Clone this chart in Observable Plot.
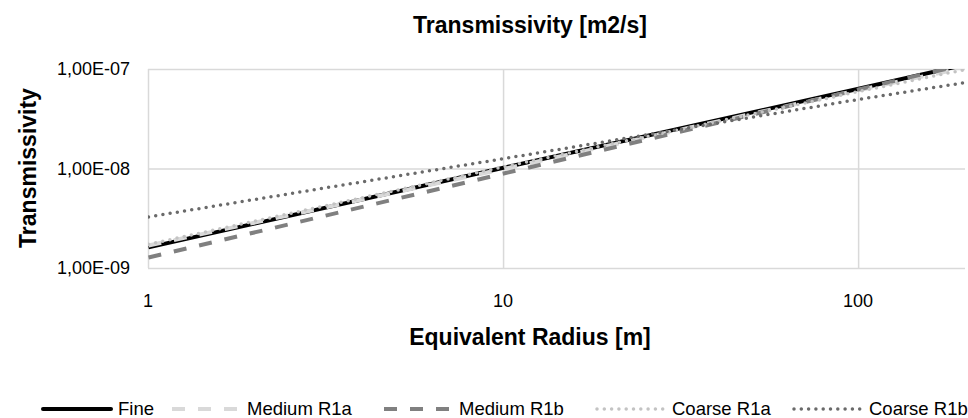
<!DOCTYPE html>
<html>
<head>
<meta charset="utf-8">
<script src="https://cdn.jsdelivr.net/npm/d3@7"></script>
<script src="https://cdn.jsdelivr.net/npm/@observablehq/plot@0.6"></script>
<style>
  html, body { margin: 0; padding: 0; background: #fff; }
  body { font-family: "Liberation Sans", Arial, sans-serif; }
  #chart { position: relative; width: 968px; height: 418px; overflow: hidden; }
  .title { position: absolute; font-weight: bold; font-size: 23px; color: #000;
           white-space: nowrap; line-height: 1; }
  #title { top: 14px; left: 530px; transform: translateX(-50%); }
  #xtitle { top: 326px; left: 530px; transform: translateX(-50%); }
  #ytitle { top: 168px; left: 28px; transform: translate(-50%, -50%) rotate(-90deg); }
  .tick { position: absolute; font-size: 18px; color: #000; white-space: nowrap; line-height: 1; }
  .tick.x { transform: translate(-50%, -50%); }
  .tick.y { transform: translate(-100%, -50%); }
  #legend { position: absolute; top: 398px; left: 0; width: 968px; height: 22px; }
  .item { position: absolute; top: 0; display: flex; align-items: center; font-size: 18.5px; color: #000; }
  .item svg { margin-right: 5px; }
</style>
</head>
<body>
<div id="chart">
  <div id="plot"></div>
  <div id="title" class="title">Transmissivity [m2/s]</div>
  <div id="xtitle" class="title">Equivalent Radius [m]</div>
  <div id="ytitle" class="title">Transmissivity</div>
  <div id="legend"></div>
</div>
<script>
// Equivalent radius [m] at which each series is read
const radius = [1, 10, 100, 200];

// Transmissivity [m2/s] per discretisation
const fine      = [1.63e-9, 1.03e-8, 6.4e-8, 1.12e-7];
const mediumR1a = [1.70e-9, 1.00e-8, 6.2e-8, 1.05e-7];
const mediumR1b = [1.29e-9, 9.0e-9, 6.3e-8, 1.13e-7];
const coarseR1a = [1.75e-9, 1.05e-8, 6.0e-8, 1.0e-7];
const coarseR1b = [3.3e-9, 1.27e-8, 5.0e-8, 7.4e-8];

const seriesNames = ["Fine", "Medium R1a", "Medium R1b", "Coarse R1a", "Coarse R1b"];
const seriesValues = [fine, mediumR1a, mediumR1b, coarseR1a, coarseR1b];

const xTicks = [1, 10, 100];
const yTicks = [1e-9, 1e-8, 1e-7];

// Line styles for each series
const styles = {
  "Fine":       {stroke: "#000000", strokeWidth: 4, dash: null, cap: "butt"},
  "Medium R1a": {stroke: "#d9d9d9", strokeWidth: 4, dash: "13,13", cap: "butt"},
  "Medium R1b": {stroke: "#808080", strokeWidth: 4, dash: "13,13", cap: "butt"},
  "Coarse R1a": {stroke: "#c3c3c3", strokeWidth: 3.5, dash: "0,7.3", cap: "round"},
  "Coarse R1b": {stroke: "#6a6a6a", strokeWidth: 3.5, dash: "0,7.3", cap: "round"}
};

const rows = seriesNames.flatMap((name, i) =>
  radius.map((r, j) => ({series: name, r, t: seriesValues[i][j]})));

const sciComma = d => {
  const e = Math.round(Math.log10(d));
  return "1,00E" + (e < 0 ? "-" : "+") + String(Math.abs(e)).padStart(2, "0");
};

const font = "'Liberation Sans', Arial, sans-serif";

const lineMarks = seriesNames.map(name => {
  const s = styles[name];
  return Plot.line(rows.filter(d => d.series === name), {
    x: "r", y: "t",
    stroke: s.stroke, strokeWidth: s.strokeWidth,
    strokeDasharray: s.dash, strokeLinecap: s.cap,
    clip: true
  });
});

const chart = Plot.plot({
  width: 968,
  height: 390,
  marginLeft: 148,
  marginRight: 3,
  marginTop: 69,
  marginBottom: 122,
  style: {fontFamily: font, background: "#fff", overflow: "visible"},
  x: {type: "log", domain: [1, 200], axis: null},
  y: {type: "log", domain: [1e-9, 1e-7], axis: null},
  marks: [
    Plot.gridX(xTicks, {stroke: "#d9d9d9", strokeOpacity: 1, strokeWidth: 1.5}),
    Plot.gridY(yTicks, {stroke: "#d9d9d9", strokeOpacity: 1, strokeWidth: 1.5}),
    ...lineMarks
  ]
});
document.getElementById("plot").appendChild(chart);

// Tick labels placed with the plot's own scales
const box = document.getElementById("chart");
const xs = chart.scale("x"), ys = chart.scale("y");
xTicks.forEach(v => {
  const el = document.createElement("div");
  el.className = "tick x";
  el.textContent = d3.format("d")(v);
  el.style.left = xs.apply(v) + "px";
  el.style.top = "301px";
  box.appendChild(el);
});
yTicks.forEach(v => {
  const el = document.createElement("div");
  el.className = "tick y";
  el.textContent = sciComma(v);
  el.style.left = "130px";
  el.style.top = ys.apply(v) + "px";
  box.appendChild(el);
});

// Legend row
const legendLeft = [41, 170, 382, 595, 792];
const legend = document.getElementById("legend");
seriesNames.forEach((name, i) => {
  const s = styles[name];
  const item = document.createElement("div");
  item.className = "item";
  item.style.left = legendLeft[i] + "px";
  const sw = d3.create("svg").attr("width", 72).attr("height", 22);
  sw.append("line").attr("x1", 2).attr("x2", 70).attr("y1", 11).attr("y2", 11)
    .attr("stroke", s.stroke).attr("stroke-width", s.strokeWidth)
    .attr("stroke-dasharray", s.dash).attr("stroke-linecap", name === "Fine" ? "round" : s.cap);
  item.appendChild(sw.node());
  const label = document.createElement("span");
  label.textContent = name;
  item.appendChild(label);
  legend.appendChild(item);
});
</script>
</body>
</html>
